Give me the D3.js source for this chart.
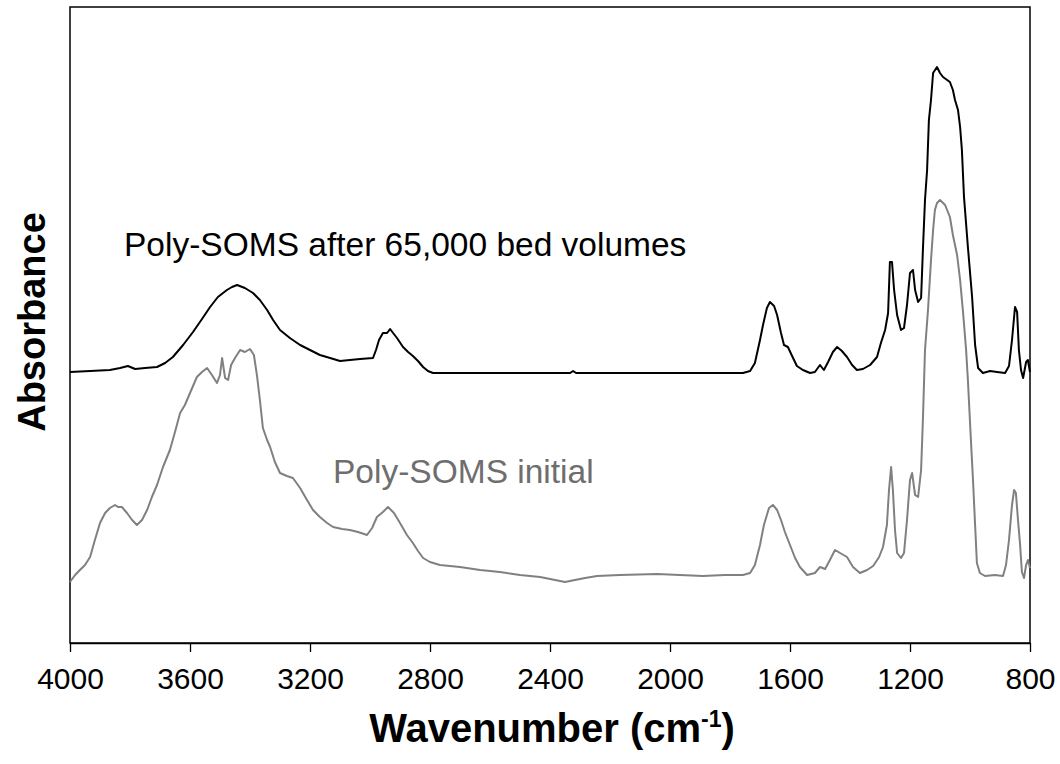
<!DOCTYPE html>
<html>
<head>
<meta charset="utf-8">
<script src="https://cdn.jsdelivr.net/npm/d3@7"></script>
<style>
  body { margin: 0; background: #fff; }
  text { font-family: "Liberation Sans", Arial, sans-serif; }
</style>
</head>
<body>
<script>
// FTIR spectra, [wavenumber (cm-1), absorbance (a.u.)]
const afterSpectrum = [
  [4000,0.542],[3933,0.544],[3867,0.546],[3833,0.550],[3807,0.554],[3783,0.548],[3750,0.550],
  [3710,0.552],[3683,0.560],[3657,0.572],[3623,0.596],[3590,0.622],[3560,0.648],[3533,0.672],
  [3507,0.692],[3477,0.706],[3460,0.712],[3443,0.716],[3417,0.710],[3390,0.700],[3367,0.686],
  [3343,0.666],[3323,0.646],[3300,0.626],[3267,0.610],[3233,0.596],[3200,0.586],[3167,0.576],
  [3133,0.570],[3100,0.564],[3067,0.566],[3033,0.568],[2990,0.570],[2980,0.586],[2970,0.606],
  [2957,0.620],[2943,0.620],[2933,0.628],[2923,0.620],[2910,0.610],[2890,0.592],[2873,0.582],
  [2857,0.574],[2840,0.564],[2823,0.552],[2807,0.544],[2790,0.540],[2333,0.540],[2323,0.544],
  [2313,0.540],[1757,0.540],[1733,0.544],[1717,0.560],[1700,0.606],[1690,0.636],[1677,0.670],
  [1667,0.682],[1653,0.674],[1643,0.656],[1630,0.620],[1620,0.596],[1607,0.592],[1593,0.574],
  [1577,0.554],[1557,0.546],[1533,0.540],[1517,0.542],[1500,0.556],[1487,0.546],[1473,0.562],
  [1457,0.582],[1443,0.592],[1427,0.584],[1410,0.572],[1393,0.556],[1377,0.546],[1357,0.548],
  [1333,0.556],[1310,0.572],[1297,0.600],[1283,0.626],[1273,0.660],[1267,0.762],[1260,0.762],
  [1253,0.706],[1243,0.656],[1230,0.626],[1220,0.630],[1210,0.676],[1200,0.740],[1190,0.746],
  [1183,0.706],[1173,0.682],[1163,0.690],[1157,0.786],[1150,0.886],[1143,0.946],[1137,1.046],
  [1130,1.086],[1123,1.140],[1110,1.152],[1100,1.140],[1090,1.132],[1067,1.122],[1057,1.106],
  [1050,1.086],[1040,1.066],[1033,1.032],[1027,0.986],[1020,0.892],[1007,0.792],[993,0.692],
  [983,0.596],[973,0.550],[957,0.540],[933,0.544],[910,0.542],[883,0.540],[870,0.554],
  [860,0.606],[850,0.672],[843,0.662],[837,0.586],[830,0.546],[823,0.530],[813,0.562],
  [807,0.566],[800,0.542]
];

const initialSpectrum = [
  [4000,0.122],[3983,0.136],[3967,0.146],[3950,0.156],[3933,0.172],[3917,0.206],[3900,0.240],
  [3883,0.260],[3867,0.270],[3850,0.276],[3840,0.272],[3827,0.272],[3810,0.260],[3793,0.246],
  [3777,0.236],[3760,0.246],[3743,0.266],[3727,0.292],[3710,0.316],[3690,0.352],[3667,0.386],
  [3650,0.422],[3633,0.460],[3617,0.476],[3600,0.500],[3577,0.532],[3560,0.542],[3543,0.550],
  [3527,0.536],[3510,0.520],[3500,0.536],[3493,0.570],[3483,0.530],[3473,0.526],[3463,0.556],
  [3450,0.570],[3433,0.586],[3417,0.582],[3400,0.588],[3387,0.576],[3377,0.536],[3367,0.486],
  [3357,0.430],[3343,0.406],[3333,0.392],[3317,0.362],[3300,0.340],[3277,0.334],[3257,0.330],
  [3233,0.310],[3210,0.286],[3190,0.266],[3167,0.252],[3143,0.240],[3123,0.232],[3093,0.228],
  [3067,0.226],[3040,0.222],[3010,0.216],[2993,0.230],[2977,0.252],[2957,0.262],[2940,0.272],
  [2920,0.260],[2900,0.240],[2877,0.216],[2857,0.200],[2840,0.184],[2823,0.170],[2800,0.162],
  [2767,0.156],[2700,0.152],[2633,0.146],[2567,0.142],[2500,0.136],[2433,0.132],[2383,0.126],
  [2350,0.122],[2317,0.126],[2283,0.130],[2243,0.134],[2167,0.136],[2043,0.138],[1967,0.136],
  [1890,0.134],[1817,0.136],[1757,0.136],[1733,0.140],[1717,0.156],[1700,0.196],[1687,0.236],
  [1670,0.270],[1657,0.276],[1643,0.266],[1630,0.246],[1617,0.222],[1600,0.196],[1583,0.170],
  [1567,0.152],[1543,0.136],[1517,0.140],[1500,0.152],[1483,0.148],[1467,0.166],[1450,0.186],
  [1433,0.180],[1410,0.172],[1390,0.152],[1367,0.140],[1343,0.146],[1323,0.154],[1303,0.172],
  [1290,0.192],[1277,0.236],[1270,0.306],[1263,0.352],[1257,0.306],[1250,0.226],[1243,0.180],
  [1230,0.170],[1220,0.180],[1210,0.246],[1200,0.326],[1193,0.340],[1183,0.296],[1173,0.292],
  [1163,0.346],[1157,0.446],[1150,0.586],[1140,0.666],[1130,0.766],[1123,0.826],[1117,0.866],
  [1110,0.880],[1100,0.886],[1083,0.876],[1067,0.852],[1057,0.816],[1043,0.776],[1033,0.726],
  [1023,0.660],[1013,0.586],[1007,0.526],[997,0.406],[990,0.326],[983,0.236],[977,0.160],
  [967,0.140],[950,0.134],[917,0.136],[890,0.134],[880,0.156],[870,0.206],[860,0.276],
  [853,0.306],[847,0.300],[840,0.246],[833,0.196],[827,0.142],[820,0.130],[813,0.156],
  [807,0.166],[800,0.150]
];

const xTicks = [4000, 3600, 3200, 2800, 2400, 2000, 1600, 1200, 800];
const afterLabel = "Poly-SOMS after 65,000 bed volumes";
const initialLabel = "Poly-SOMS initial";

const width = 1060;
const height = 764;
const margin = {top: 7, right: 30, bottom: 121, left: 70};

const svg = d3.select("body").append("svg")
    .attr("width", width)
    .attr("height", height);

svg.append("rect").attr("width", width).attr("height", height).attr("fill", "#fff");

const xscale = d3.scaleLinear()
    .domain([4000, 800])
    .range([margin.left, width - margin.right]);

const yscale = d3.scaleLinear()
    .domain([0, 1.272])
    .range([height - margin.bottom, margin.top]);

// frame
svg.append("rect")
    .attr("x", margin.left)
    .attr("y", margin.top)
    .attr("width", width - margin.left - margin.right)
    .attr("height", height - margin.top - margin.bottom)
    .attr("fill", "none")
    .attr("stroke", "#000")
    .attr("stroke-width", 1.5);

const xaxis = d3.axisBottom(xscale)
    .tickValues(xTicks)
    .tickFormat(d3.format("d"))
    .tickSize(9)
    .tickSizeOuter(0)
    .tickPadding(16);

const gx = svg.append("g")
    .attr("transform", `translate(0, ${height - margin.bottom})`)
    .call(xaxis);
gx.select(".domain").attr("stroke", "#000").attr("stroke-width", 1.5);
gx.selectAll(".tick line").attr("stroke", "#000").attr("stroke-width", 1.3);
gx.selectAll(".tick text")
    .attr("fill", "#000")
    .style("font-family", '"Liberation Sans", Arial, sans-serif')
    .style("font-size", "30px");

const line = d3.line()
    .x(d => xscale(d[0]))
    .y(d => yscale(d[1]));

svg.append("path")
    .datum(initialSpectrum)
    .attr("d", line)
    .attr("fill", "none")
    .attr("stroke", "#808080")
    .attr("stroke-width", 2)
    .attr("stroke-linejoin", "round");

svg.append("path")
    .datum(afterSpectrum)
    .attr("d", line)
    .attr("fill", "none")
    .attr("stroke", "#000")
    .attr("stroke-width", 2)
    .attr("stroke-linejoin", "round");

// series labels
svg.append("text")
    .attr("x", 124)
    .attr("y", 256)
    .attr("fill", "#000")
    .style("font-size", "33.5px")
    .text(afterLabel);

svg.append("text")
    .attr("x", 333)
    .attr("y", 483)
    .attr("fill", "#6e6e6e")
    .style("font-size", "33.5px")
    .text(initialLabel);

// axis titles
const xt = svg.append("text")
    .attr("x", 552)
    .attr("y", 742)
    .attr("text-anchor", "middle")
    .style("font-size", "40px")
    .style("font-weight", "bold");
xt.append("tspan").text("Wavenumber (cm");
xt.append("tspan").attr("dy", -15).style("font-size", "23px").text("-1");
xt.append("tspan").attr("dy", 15).text(")");

svg.append("text")
    .attr("transform", "translate(45, 322) rotate(-90)")
    .attr("text-anchor", "middle")
    .style("font-size", "38px")
    .style("font-weight", "bold")
    .text("Absorbance");
</script>
</body>
</html>
